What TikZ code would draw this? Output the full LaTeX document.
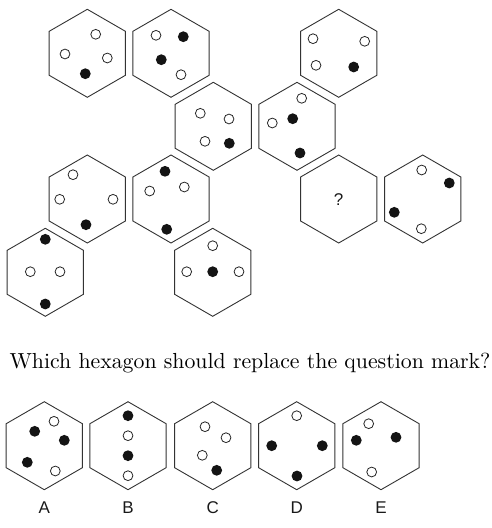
\documentclass[tikz,border=0pt]{standalone}
\usepackage{fontspec}
\newfontfamily\labelfont{Liberation Sans}
\usetikzlibrary{shapes.geometric}
\tikzset{
  hexa/.style={regular polygon, regular polygon sides=6, shape border rotate=30,
    minimum size=88pt, inner sep=0pt, outer sep=0pt, draw=black!80, line width=0.9pt},
  wd/.style={circle, minimum size=9.8pt, inner sep=0pt, draw=black!85, line width=0.8pt, fill=white},
  bd/.style={circle, minimum size=10.8pt, inner sep=0pt, fill=black!92},
  lbl/.style={font=\labelfont\fontsize{17}{19}\selectfont, text=black!90, inner sep=0pt},
}
\begin{document}
\begin{tikzpicture}[x=1pt,y=-1pt]
\useasboundingbox (0,0) rectangle (492,528);
% puzzle hexagons
\node[hexa] (h1) at (87.3,53.3) {};
\node[hexa] (h2) at (171,53.3) {};
\node[hexa] (h3) at (213.3,126.3) {};
\node[hexa] (h4) at (338.7,53.3) {};
\node[hexa] (h5) at (297,126.3) {};
\node[hexa] (h6) at (87.3,199) {};
\node[hexa] (h7) at (171,199) {};
\node[hexa] (h8) at (45.3,272.3) {};
\node[hexa] (h9) at (212.7,272.3) {};
\node[hexa] (h10) at (338.7,199) {};
\node[hexa] (h11) at (422.7,199) {};
\node[lbl, font=\labelfont\fontsize{17}{19}\selectfont] (q) at (338.7,199.5) {?};
% dots h1
\node[wd] (d1a) at (95.7,34.3) {};
\node[wd] (d1b) at (65,54) {};
\node[wd] (d1c) at (107.3,58) {};
\node[bd] (d1d) at (85.3,73.7) {};
% h2
\node[wd] (d2a) at (156,35.3) {};
\node[bd] (d2b) at (183.3,36.7) {};
\node[bd] (d2c) at (161.3,59.7) {};
\node[wd] (d2d) at (181,74.7) {};
% h3
\node[wd] (d3a) at (200.3,113.3) {};
\node[wd] (d3b) at (229,119) {};
\node[wd] (d3c) at (205,141.3) {};
\node[bd] (d3d) at (229.3,143.3) {};
% h4
\node[wd] (d4a) at (313,38.7) {};
\node[wd] (d4b) at (364.7,41.3) {};
\node[wd] (d4c) at (316,65.3) {};
\node[bd] (d4d) at (353.7,67) {};
% h5
\node[wd] (d5a) at (301.7,98.3) {};
\node[bd] (d5b) at (292.7,118.7) {};
\node[wd] (d5c) at (272.3,123) {};
\node[bd] (d5d) at (300,153) {};
% h6
\node[wd] (d6a) at (73,174.7) {};
\node[wd] (d6b) at (59.7,199.3) {};
\node[wd] (d6c) at (113,199.3) {};
\node[bd] (d6d) at (86,224.7) {};
% h7
\node[bd] (d7a) at (165,171.3) {};
\node[wd] (d7b) at (149.7,191) {};
\node[wd] (d7c) at (184.3,187) {};
\node[bd] (d7d) at (166.7,229.3) {};
% h8
\node[bd] (d8a) at (45.3,239.3) {};
\node[wd] (d8b) at (30.3,271.7) {};
\node[wd] (d8c) at (60,271.7) {};
\node[bd] (d8d) at (45.3,304) {};
% h9
\node[wd] (d9a) at (212.7,245.7) {};
\node[wd] (d9b) at (186.7,271.7) {};
\node[bd] (d9c) at (212.7,271.7) {};
\node[wd] (d9d) at (239,271.7) {};
% h11
\node[wd] (d11a) at (421.7,170) {};
\node[bd] (d11b) at (449.3,183) {};
\node[bd] (d11c) at (394.3,212.3) {};
\node[wd] (d11d) at (421.3,228.7) {};
% question
\node[anchor=base west, inner sep=0pt] (txt) at (9.3,368.3)
  {\resizebox{481pt}{!}{Which hexagon should replace the question mark?}};
% answers
\node[hexa] (ha) at (44.3,445.7) {};
\node[hexa] (hb) at (128,445.7) {};
\node[hexa] (hc) at (212.7,445.7) {};
\node[hexa] (hd) at (296.7,445.7) {};
\node[hexa] (he) at (381,445.7) {};
% A
\node[wd] (da1) at (54,421.3) {};
\node[bd] (da2) at (34.7,431.3) {};
\node[bd] (da3) at (64.3,440.3) {};
\node[bd] (da4) at (27.3,462.3) {};
\node[wd] (da5) at (55.3,471) {};
% B
\node[bd] (db1) at (128,415.7) {};
\node[wd] (db2) at (128,435.7) {};
\node[bd] (db3) at (128,455.7) {};
\node[wd] (db4) at (128,475.7) {};
% C
\node[wd] (dc1) at (205,426.7) {};
\node[wd] (dc2) at (226,437.7) {};
\node[wd] (dc3) at (202.3,455.3) {};
\node[bd] (dc4) at (216.7,470.3) {};
% D
\node[wd] (dd1) at (296.7,415.7) {};
\node[bd] (dd2) at (271.7,445.7) {};
\node[bd] (dd3) at (322.3,445.7) {};
\node[bd] (dd4) at (297,476) {};
% E
\node[wd] (de1) at (368.7,423.7) {};
\node[bd] (de2) at (356.3,440.3) {};
\node[bd] (de3) at (396,437.3) {};
\node[wd] (de4) at (371.7,472) {};
% labels
\node[lbl] (la) at (44.3,507.5) {A};
\node[lbl] (lb) at (128,507.5) {B};
\node[lbl] (lc) at (212.7,507.5) {C};
\node[lbl] (ld) at (296.7,507.5) {D};
\node[lbl] (le) at (381,507.5) {E};
\end{tikzpicture}
\end{document}
